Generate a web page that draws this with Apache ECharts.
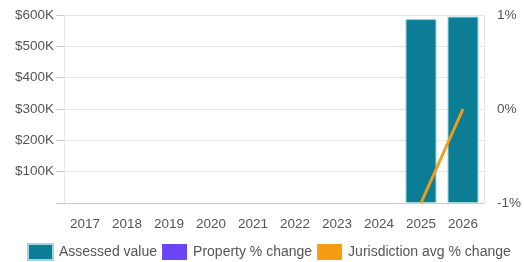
<!DOCTYPE html>
<html><head><meta charset="utf-8">
<script src="https://cdn.jsdelivr.net/npm/echarts@6/dist/echarts.min.js"></script>
<style>html,body{margin:0;padding:0;background:#fff}#c{width:524px;height:262px}</style>
</head><body><div id="c"></div>
<script>
const years = ['2017','2018','2019','2020','2021','2022','2023','2024','2025','2026'];
const assessedValue = [null,null,null,null,null,null,null,null,587000,595000];
const propertyChange = [null,null,null,null,null,null,null,null,null,null];
const jurisdictionChange = [null,null,null,null,null,null,null,null,-1,0];
const leftTicks = [0,100000,200000,300000,400000,500000,600000];
const rightTicks = [-1,0,1];

const chart = echarts.init(document.getElementById('c'), null, {renderer:'canvas'});
const font = 'Liberation Sans, Arial, sans-serif';
chart.setOption({
  animation:false,
  grid:{left:64,right:40,top:15,bottom:59},
  legend:{
    top:243,left:27,padding:0,itemWidth:25,itemHeight:16,itemGap:5,
    textStyle:{fontFamily:font,fontSize:14,color:'#555',padding:[0,0,0,1]},
    data:[
      {name:'Assessed value',icon:'rect'},
      {name:'Property % change',icon:'rect'},
      {name:'Jurisdiction avg % change',icon:'rect'}
    ]
  },
  xAxis:{
    type:'category',data:years,
    axisLine:{lineStyle:{color:'#ccc'}},
    axisTick:{show:false},
    axisLabel:{fontFamily:font,fontSize:13.5,color:'#555',margin:14},
    splitLine:{show:false}
  },
  yAxis:[{
    type:'value',min:leftTicks[0],max:leftTicks[leftTicks.length-1],interval:100000,
    axisLine:{show:true,lineStyle:{color:'#e6e6e6'}},
    axisTick:{show:true,length:8,lineStyle:{color:'#ccc'}},
    axisLabel:{fontFamily:font,fontSize:13.5,color:'#555',margin:10,
      formatter:v=> v===0?'':'$'+(v/1000)+'K'},
    splitLine:{lineStyle:{color:'#e6e6e6'}}
  },{
    type:'value',min:rightTicks[0],max:rightTicks[rightTicks.length-1],interval:1,
    position:'right',
    axisLine:{show:true,lineStyle:{color:'#e6e6e6'}},
    axisTick:{show:false},
    axisLabel:{fontFamily:font,fontSize:13.5,color:'#555',margin:13,formatter:v=>v+'%'},
    splitLine:{show:false}
  }],
  series:[
    {name:'Assessed value',type:'bar',data:assessedValue,yAxisIndex:0,barWidth:31,
     itemStyle:{color:'#0b7d94',borderColor:'#9fd6e0',borderWidth:1}},
    {name:'Property % change',type:'line',data:propertyChange,yAxisIndex:1,
     itemStyle:{color:'#6b45f5'},lineStyle:{color:'#6b45f5',width:3},symbol:'none'},
    {name:'Jurisdiction avg % change',type:'line',data:jurisdictionChange,yAxisIndex:1,
     itemStyle:{color:'#f59c12'},lineStyle:{color:'#f39c1a',width:3},symbol:'none',z:5}
  ]
});
</script></body></html>
